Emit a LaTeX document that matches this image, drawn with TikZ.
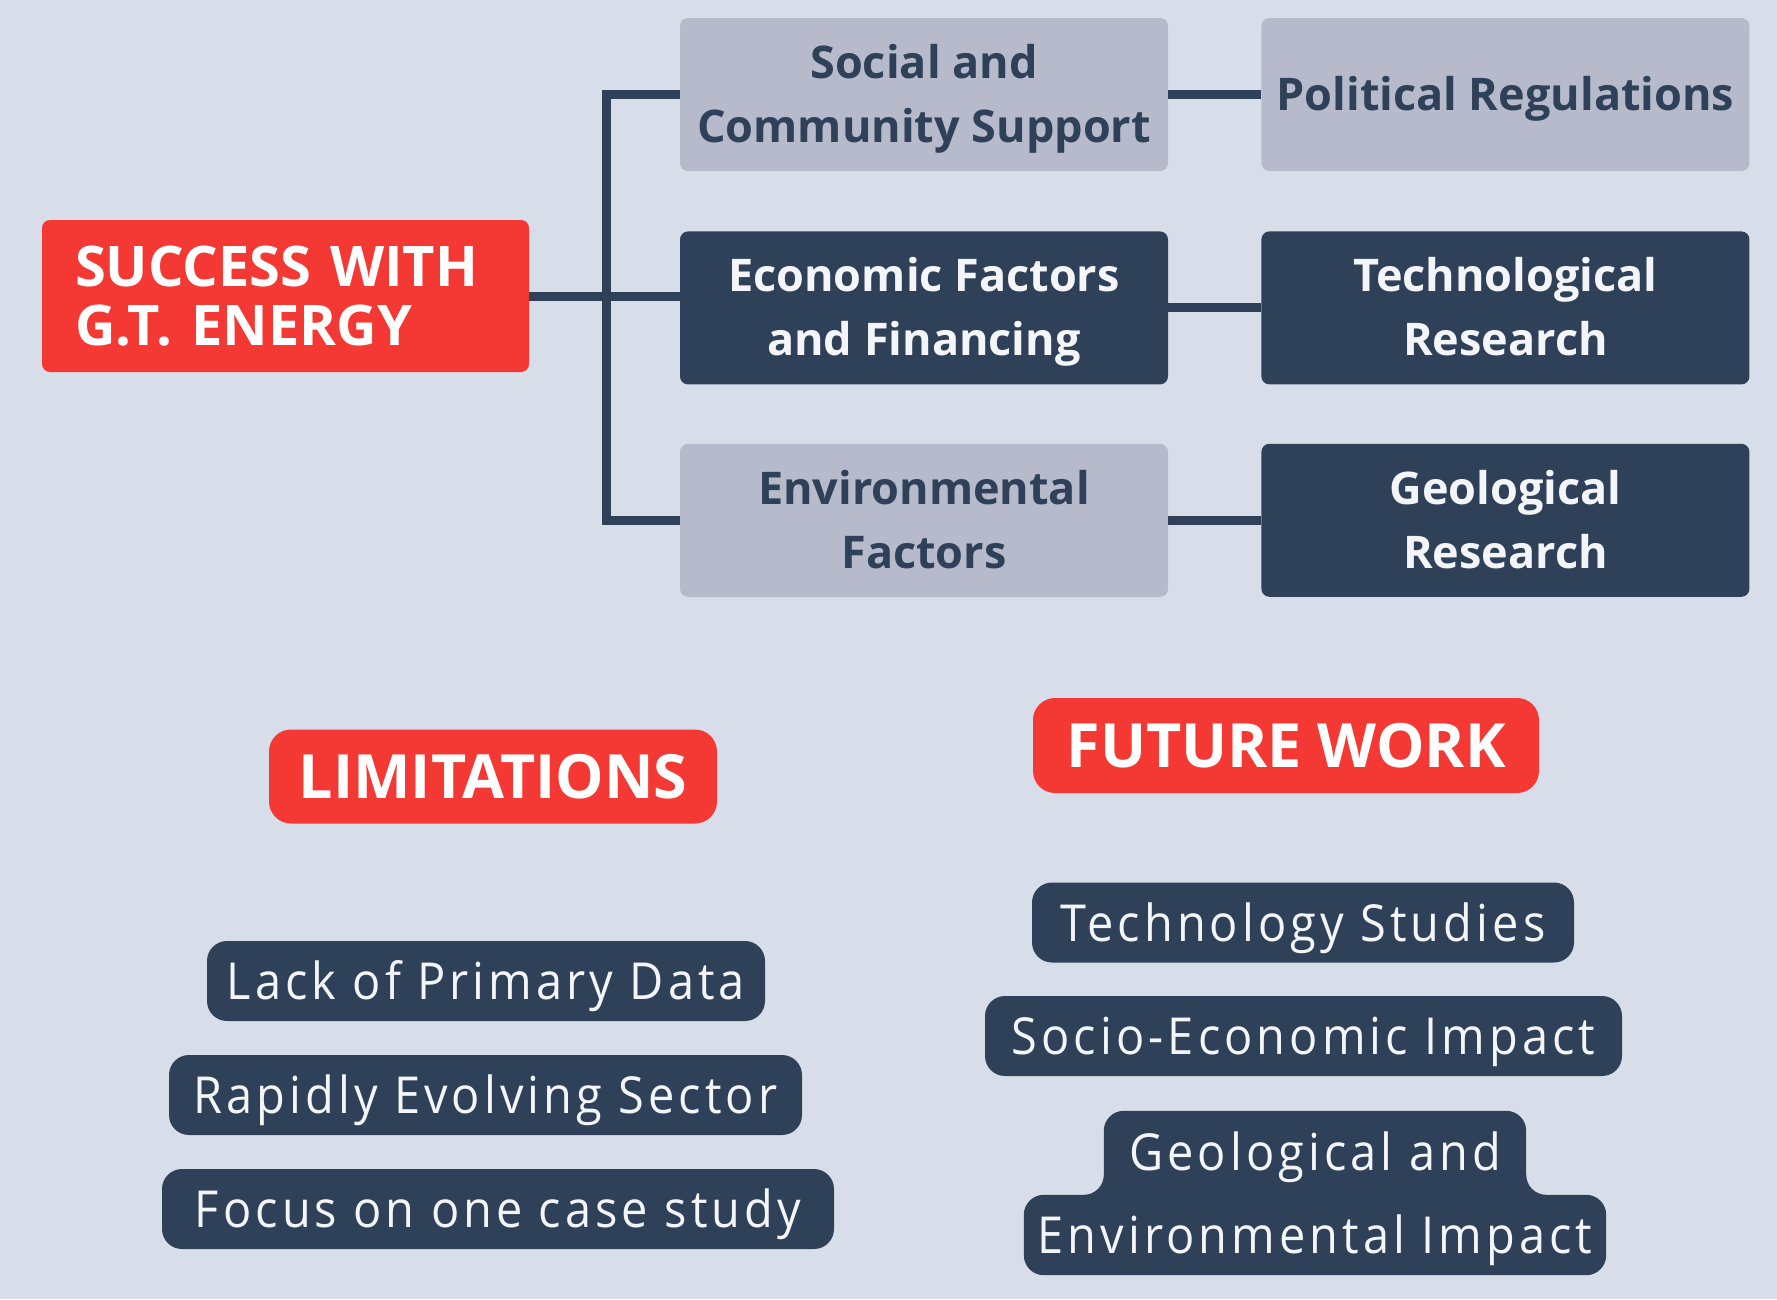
\documentclass[tikz,border=0pt]{standalone}
\usepackage{fontspec}
\setmainfont{Open Sans}
\newfontfamily\thinfont[FakeStretch=0.92,LetterSpace=8]{Open Sans}
\usepackage{tikz}
\usetikzlibrary{positioning, backgrounds}

\definecolor{bgcol}{HTML}{D8DEE9}
\definecolor{navy}{HTML}{2E4159}
\definecolor{alert}{HTML}{F43833}
\definecolor{cardgrey}{HTML}{B6BACA}
\definecolor{offwhite}{HTML}{F4F5F8}

\begin{document}
\begin{tikzpicture}[x=1pt, y=-1pt,
  card/.style={rounded corners=8pt, minimum width=488pt, minimum height=153pt,
    inner sep=0pt, align=center, font=\fontsize{45}{64}\selectfont\bfseries,
    text height=96pt, text depth=0pt},
  lightcard/.style={card, fill=cardgrey, text=navy},
  darkcard/.style={card, fill=navy, text=offwhite},
  headtag/.style={rounded corners=22pt, fill=alert, text=white, inner sep=0pt,
    font=\fontsize{61}{70}\selectfont\bfseries, text height=44pt, text depth=0pt},
  pill/.style={rounded corners=20pt, fill=navy, text=offwhite, inner sep=0pt,
    minimum height=80pt, font=\thinfont\fontsize{51}{83}\selectfont,
    text height=37pt, text depth=0pt},
  link/.style={draw=navy, line width=9pt}]

  \useasboundingbox (0,0) rectangle (1777,1299);
  \begin{scope}[on background layer]
    \fill[bgcol] (0,0) rectangle (1777,1299);
  \end{scope}

  % ---- Success tree ----
  \node[fill=alert, text=white, rounded corners=8pt, inner xsep=33pt, inner ysep=0pt,
    minimum height=152pt, text width=421pt, align=left,
    font=\fontsize{56}{59}\selectfont\bfseries, text height=40pt, text depth=59pt]
    (succ) at (285.5,296) {SUCCESS WITH\\G.T. ENERGY};

  % first column
  \node[lightcard] (soc) at (924,94.5) {Social and\\Community Support};
  \node[darkcard, below=60pt of soc] (eco) {Economic Factors\\and Financing};
  \node[lightcard, below=59pt of eco] (env) {Environmental\\Factors};

  % second column
  \node[lightcard, text height=32pt, right=93pt of soc] (pol) {Political Regulations};
  \node[darkcard, right=93pt of eco] (tec) {Technological\\Research};
  \node[darkcard, right=93pt of env] (geo) {Geological\\Research};

  % links
  \coordinate (fork) at (606,296);
  \draw[link] (succ.east) -- (succ.east -| eco.west);
  \draw[link] (soc.west) -| (fork) |- (env.west);
  \draw[link] (soc.east) -- (pol.west);
  \draw[link] (eco.east) -- (tec.west);
  \draw[link] (env.east) -- (geo.west);

  % ---- Limitations ----
  \node[headtag, minimum width=448pt, minimum height=94pt] (lim) at (493,776.5) {LIMITATIONS};
  \foreach \nm/\cx/\cy/\w/\txt in {lack/486/981/558/Lack of Primary Data,
      rapid/485.5/1095/633/Rapidly Evolving Sector,
      focus/498/1209/672/Focus on one case study}
    \node[pill, minimum width=\w] (\nm) at (\cx,\cy) {\txt};

  % ---- Future work ----
  \node[headtag, minimum width=506pt, minimum height=95pt] (fut) at (1286,745.5) {FUTURE WORK};
  \node[pill, minimum width=542] (techst) at (1303,922.5) {Technology Studies};
  \node[pill, minimum width=637] (socio) at (1303.5,1036) {Socio-Economic Impact};
  \node[pill, fill=none, minimum width=422, minimum height=82] (geoand) at (1315,1152) {Geological and};
  \node[pill, fill=none, minimum width=582] (envimp) at (1315,1235) {Environmental Impact};
  \begin{scope}[on background layer]
    \fill[navy, rounded corners=20pt] (envimp.south west) -- (envimp.north west)
      -- (envimp.north west -| geoand.west) -- (geoand.north west)
      -- (geoand.north east) -- (envimp.north east -| geoand.east)
      -- (envimp.north east) -- (envimp.south east) -- cycle;
  \end{scope}
\end{tikzpicture}
\end{document}
